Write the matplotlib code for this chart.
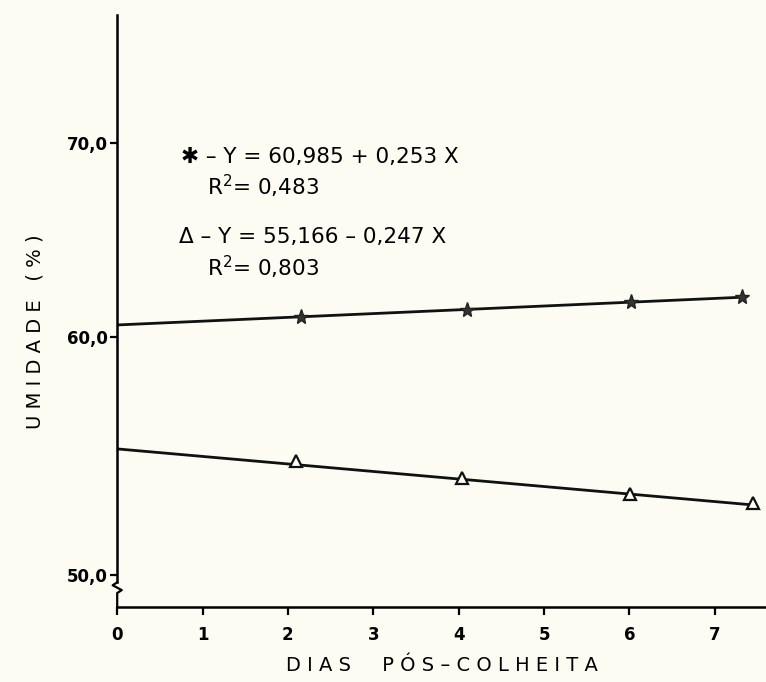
import matplotlib
matplotlib.use("Agg")
import matplotlib.pyplot as plt
import matplotlib.transforms as mtransforms
import numpy as np

# ---- data ----
days_star = [2.15, 4.1, 6.02, 7.32]
umid_star = [61.03, 61.39, 61.80, 62.06]
fit_star_x = [0.0, 7.32]
fit_star_y = [60.62, 62.05]

days_tri = [2.09, 4.04, 6.01, 7.45]
umid_tri = [53.62, 52.74, 51.90, 51.45]
fit_tri_x = [0.0, 7.45]
fit_tri_y = [54.23, 51.34]

xticks = [0, 1, 2, 3, 4, 5, 6, 7]
xtick_labels = ["0", "1", "2", "3", "4", "5", "6", "7"]
yticks = [50, 60, 70]
ytick_labels = ["50,0", "60,0", "70,0"]

eq_star = "✱ – Y = 60,985 + 0,253 X"
r2_star = "R$^2$= 0,483"
eq_tri = "Δ – Y = 55,166 – 0,247 X"
r2_tri = "R$^2$= 0,803"

# broken axis: values below the break are shifted up
BREAK_SHIFT = 50 - 47.73
def ypos(v):
    return v if v >= 55 else v - BREAK_SHIFT

bg = "#fcfcf3"
fig = plt.figure(figsize=(7.66, 6.82), dpi=100, facecolor=bg)
ax = fig.add_axes([0.153, 0.110, 0.847, 0.868], facecolor=bg)

ax.set_xlim(0, 7.6)
ax.set_ylim(46.08, 76.6)

ax.plot(fit_star_x, fit_star_y, color="#111111", lw=2.0, zorder=2)
ax.plot(days_star, umid_star, linestyle="none", marker="*", ms=11,
        color="#333333", mec="#222222", zorder=3)
ax.plot(fit_tri_x, fit_tri_y, color="#111111", lw=2.0, zorder=2)
ax.plot(days_tri, umid_tri, linestyle="none", marker="^", ms=9,
        mfc="white", mec="#111111", mew=1.6, zorder=3)

for s in ["top", "right"]:
    ax.spines[s].set_visible(False)
ax.spines["left"].set_linewidth(1.8)
ax.spines["bottom"].set_linewidth(1.8)
ax.spines["left"].set_bounds(47.35, 76.6)

# axis break marks (squiggle)
btrans = mtransforms.blended_transform_factory(ax.transAxes, ax.transData)
ax.plot([0, -0.007, 0.007, 0, 0], [47.35, 47.2, 46.95, 46.8, 46.08],
        color="black", lw=1.6, transform=btrans, clip_on=False)

ax.set_xticks(xticks)
ax.set_xticklabels(xtick_labels, fontsize=12, fontweight="bold")
ax.set_yticks([ypos(v) for v in yticks])
ax.set_yticklabels(ytick_labels, fontsize=12, fontweight="bold")
ax.tick_params(axis="x", direction="out", length=6, width=1.6, pad=8)
ax.tick_params(axis="y", direction="out", length=5, width=1.6, pad=2)

ax.set_xlabel("D I A S     P Ó S – C O L H E I T A", fontsize=14, labelpad=8)
ax.set_ylabel("U M I D A D E   ( % )", fontsize=14)
ax.yaxis.set_label_coords(-0.112, 0.465)

ax.text(0.75, 69.3, eq_star, fontsize=15.5, ha="left", va="center")
ax.text(1.05, 67.75, r2_star, fontsize=15.5, ha="left", va="center")
ax.text(0.72, 65.15, eq_tri, fontsize=15.5, ha="left", va="center")
ax.text(1.05, 63.6, r2_tri, fontsize=15.5, ha="left", va="center")

fig.savefig("out.png", dpi=100, facecolor=bg)
